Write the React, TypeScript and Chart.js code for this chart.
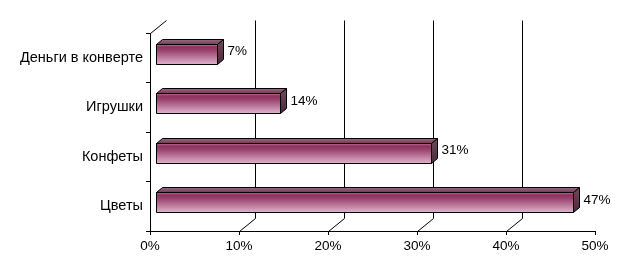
import React, { useEffect, useRef } from 'react';
import { Chart, registerables } from 'chart.js';
Chart.register(...registerables);

const categories = ['Деньги в конверте', 'Игрушки', 'Конфеты', 'Цветы'];
const values = [7, 14, 31, 47];
const xMin = 0;
const xMax = 50;
const xStep = 10;

const FONT_FAMILY = '"Liberation Sans", Arial, sans-serif';
const FONT_SIZE = 13.5;
const Y_FONT_SIZE = 14.5;

const BAR_OFF = { dx: 5, dy: -4 };
const BAR_DEPTH = { dx: 6, dy: -5 };
const WALL = { dx: 16, dy: -13 };

const pseudo3d = {
  id: 'pseudo3d',
  beforeDatasetsDraw(chart: any) {
    const { ctx, chartArea } = chart;
    const x = chart.scales.x;
    ctx.save();
    ctx.strokeStyle = '#000';
    ctx.lineWidth = 1;
    ctx.beginPath();
    const l = Math.round(chartArea.left) + 0.5;
    const t = Math.round(chartArea.top) + 0.5;
    const b = Math.round(chartArea.bottom) + 0.5;
    ctx.moveTo(l, t);
    ctx.lineTo(l + WALL.dx, t + WALL.dy);
    x.ticks.forEach((tk: any) => {
      if (tk.value <= x.min || tk.value >= x.max) return;
      const px = Math.round(x.getPixelForValue(tk.value)) + 0.5;
      ctx.moveTo(px, b);
      ctx.lineTo(px + WALL.dx, b + WALL.dy);
      ctx.lineTo(px + WALL.dx, t + WALL.dy);
    });
    ctx.stroke();
    ctx.restore();
  },
  afterDatasetsDraw(chart: any) {
    const { ctx } = chart;
    const meta = chart.getDatasetMeta(0);
    ctx.save();
    ctx.lineWidth = 1;
    ctx.strokeStyle = '#000';
    meta.data.forEach((el: any, i: number) => {
      const { x, y, base, height } = el.getProps(['x', 'y', 'base', 'height'], true);
      const L = Math.round(base + BAR_OFF.dx) + 0.5;
      const R = Math.round(x + BAR_OFF.dx) + 0.5;
      const T = Math.round(y - height / 2 + BAR_OFF.dy) + 0.5;
      const B = Math.round(y + height / 2 + BAR_OFF.dy) + 0.5;
      const dx = BAR_DEPTH.dx, dy = BAR_DEPTH.dy;
      // front face
      const g = ctx.createLinearGradient(0, T, 0, B);
      g.addColorStop(0, '#b27a96');
      g.addColorStop(0.12, '#8f3060');
      g.addColorStop(0.3, '#98426e');
      g.addColorStop(1, '#e0b4cc');
      ctx.fillStyle = g;
      ctx.beginPath();
      ctx.rect(L, T, R - L, B - T);
      ctx.fill();
      ctx.stroke();
      // top face
      const gt = ctx.createLinearGradient(0, T + dy, 0, T);
      gt.addColorStop(0, '#9a6a82');
      gt.addColorStop(1, '#6e3a55');
      ctx.fillStyle = gt;
      ctx.beginPath();
      ctx.moveTo(L, T);
      ctx.lineTo(L + dx, T + dy);
      ctx.lineTo(R + dx, T + dy);
      ctx.lineTo(R, T);
      ctx.closePath();
      ctx.fill();
      ctx.stroke();
      // side face
      const gs = ctx.createLinearGradient(0, T + dy, 0, B);
      gs.addColorStop(0, '#6e4a5c');
      gs.addColorStop(1, '#4a2a3a');
      ctx.fillStyle = gs;
      ctx.beginPath();
      ctx.moveTo(R, T);
      ctx.lineTo(R + dx, T + dy);
      ctx.lineTo(R + dx, B + dy);
      ctx.lineTo(R, B);
      ctx.closePath();
      ctx.fill();
      ctx.stroke();
      // label
      ctx.fillStyle = '#000';
      ctx.font = `${FONT_SIZE}px ${FONT_FAMILY}`;
      ctx.textAlign = 'left';
      ctx.textBaseline = 'middle';
      ctx.fillText(values[i] + '%', R + dx + 4, y + BAR_OFF.dy - 2);
    });
    ctx.restore();
  },
};

export default function App() {
  const ref = useRef<HTMLCanvasElement | null>(null);
  useEffect(() => {
    if (!ref.current) return;
    const chart = new Chart(ref.current, {
      type: 'bar',
      data: {
        labels: categories,
        datasets: [
          {
            data: values,
            backgroundColor: 'rgba(0,0,0,0)',
            borderWidth: 0,
            barThickness: 20,
          },
        ],
      },
      options: {
        indexAxis: 'y',
        animation: false,
        responsive: false,
        devicePixelRatio: 1,
        layout: { padding: { top: 33, right: 26, left: 0, bottom: 0 } },
        plugins: { legend: { display: false }, tooltip: { enabled: false } },
        scales: {
          x: {
            type: 'linear',
            min: xMin,
            max: xMax,
            ticks: {
              stepSize: xStep,
              callback: (v: any) => v + '%',
              color: '#000',
              font: { family: FONT_FAMILY, size: FONT_SIZE },
              padding: 3,
              maxRotation: 0,
            },
            grid: { drawOnChartArea: false, drawTicks: true, tickLength: 4, color: '#000' },
            border: { display: true, color: '#000' },
            afterFit: (s: any) => {
              s.height = 45;
            },
          },
          y: {
            type: 'category',
            ticks: {
              color: '#000',
              font: { family: FONT_FAMILY, size: Y_FONT_SIZE },
              padding: 3,
            },
            grid: { drawOnChartArea: false, drawTicks: true, tickLength: 4, color: '#000', offset: true },
            border: { display: true, color: '#000' },
            afterFit: (s: any) => {
              s.width = 150;
            },
          },
        },
      },
      plugins: [pseudo3d],
    });
    return () => chart.destroy();
  }, []);
  return (
    <div style={{ position: 'absolute', left: 0, top: 0, width: 621, height: 276, background: '#fff' }}>
      <canvas ref={ref} width={621} height={276} />
    </div>
  );
}
